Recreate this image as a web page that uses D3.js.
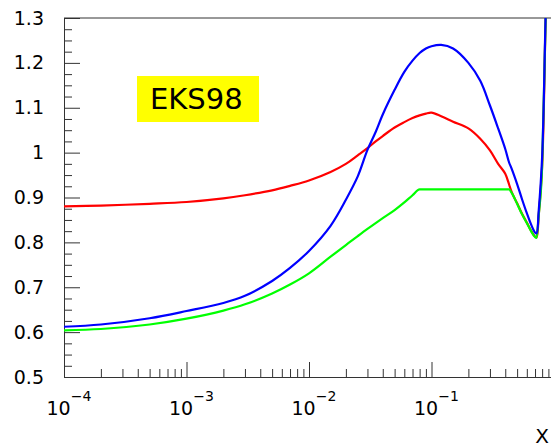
<!DOCTYPE html>
<html>
<head>
<meta charset="utf-8">
<script src="https://cdn.jsdelivr.net/npm/d3@7"></script>
<style>
  body { margin: 0; background: #fff; }
  text { font-family: "DejaVu Sans", sans-serif; fill: #000; }
</style>
</head>
<body>
<div id="chart"></div>
<script>
// values (x grid shared by the three curves)
const xVals = [1e-4, 2e-4, 5e-4, 1e-3, 2e-3, 3e-3, 5e-3, 7e-3, 0.01, 0.015, 0.02, 0.025, 0.03, 0.035, 0.04,
    0.05, 0.06, 0.07, 0.08, 0.09, 0.1, 0.12, 0.15, 0.2, 0.25, 0.3, 0.35, 0.4, 0.43, 0.45, 0.5, 0.55,
    0.6, 0.65, 0.7, 0.72, 0.75, 0.8, 0.85, 0.88];
const redVals = [0.880, 0.882, 0.886, 0.890, 0.898, 0.905, 0.916, 0.926, 0.938, 0.957, 0.975, 0.994, 1.010, 1.025, 1.037,
    1.056, 1.068, 1.077, 1.083, 1.087, 1.089, 1.081, 1.069, 1.054, 1.031, 1.005, 0.975, 0.953, 0.929, 0.913, 0.887, 0.863,
    0.844, 0.826, 0.813, 0.811, 0.86, 0.97, 1.27, 1.45];
const greenVals = [0.604, 0.607, 0.617, 0.630, 0.648, 0.662, 0.686, 0.706, 0.731, 0.768, 0.794, 0.814, 0.830, 0.843, 0.854,
    0.872, 0.889, 0.905, 0.918, 0.918, 0.918, 0.918, 0.918, 0.918, 0.918, 0.918, 0.918, 0.918, 0.918, 0.911, 0.886, 0.862,
    0.843, 0.825, 0.812, 0.810, 0.86, 0.97, 1.27, 1.45];
const blueVals = [0.612, 0.617, 0.631, 0.647, 0.665, 0.681, 0.714, 0.743, 0.781, 0.837, 0.895, 0.947, 1.006, 1.046, 1.085,
    1.140, 1.180, 1.205, 1.222, 1.232, 1.237, 1.240, 1.232, 1.200, 1.160, 1.105, 1.054, 1.008, 0.978, 0.965, 0.930, 0.895,
    0.865, 0.840, 0.822, 0.820, 0.87, 0.99, 1.28, 1.45];

const decades = [1e-4, 1e-3, 1e-2, 1e-1];
const decadeExp = ["\u22124", "\u22123", "\u22122", "\u22121"];
const yMajor = [0.5, 0.6, 0.7, 0.8, 0.9, 1, 1.1, 1.2, 1.3];
const yLabels = ["0.5", "0.6", "0.7", "0.8", "0.9", "1", "1.1", "1.2", "1.3"];
const label = "EKS98";

const W = 551, H = 448;
const margin = { top: 18, left: 64 };
const plotW = 490, plotH = 359;

const svg = d3.select("#chart").append("svg")
    .attr("width", W)
    .attr("height", H);

const g = svg.append("g")
    .attr("transform", `translate(${margin.left},${margin.top})`);

const x = d3.scaleLog().domain([1e-4, 1]).range([0, plotW]);
const y = d3.scaleLinear().domain([0.5, 1.3]).range([plotH, 0]);

g.append("clipPath").attr("id", "clip")
    .append("rect").attr("width", plotW).attr("height", plotH);

// minor ticks
const xMinor = [];
decades.forEach(d => { for (let k = 2; k <= 9; k++) xMinor.push(d * k); });
const yMinor = d3.range(0.5, 1.3001, 0.025).filter(v => Math.abs(v * 10 - Math.round(v * 10)) > 1e-6);

g.append("g")
    .attr("transform", `translate(0,${plotH})`)
    .call(d3.axisBottom(x).tickValues(xMinor).tickSize(-8).tickFormat(""))
    .call(a => a.select(".domain").remove());

g.append("g")
    .call(d3.axisLeft(y).tickValues(yMinor).tickSize(-8).tickFormat(""))
    .call(a => a.select(".domain").remove());

// major ticks
const xAxis = g.append("g")
    .attr("transform", `translate(0,${plotH})`)
    .call(d3.axisBottom(x).tickValues(decades).tickSize(-15).tickSizeOuter(0).tickFormat(""));

xAxis.selectAll(".tick").append("text")
    .attr("x", -18)
    .attr("y", 38)
    .attr("text-anchor", "start")
    .style("font-size", "19px")
    .each(function (d, i) {
        const t = d3.select(this);
        t.append("tspan").text("10");
        t.append("tspan").attr("dy", -14).style("font-size", "14px").text(decadeExp[i]);
    });

g.append("g")
    .call(d3.axisLeft(y).tickValues(yMajor).tickSize(-16).tickSizeOuter(0).tickPadding(20)
        .tickFormat((d, i) => yLabels[i]))
    .call(a => a.selectAll("text").style("font-size", "19px").attr("fill", "#000"));

g.selectAll(".tick line").attr("stroke", "#333");
g.selectAll(".domain").attr("stroke", "#333");

// top frame line
g.append("line")
    .attr("x1", 0).attr("x2", plotW)
    .attr("y1", 0).attr("y2", 0)
    .attr("stroke", "#333");

// curves: smooth for red/blue, green keeps its kinks
const smooth = d3.line()
    .x(d => x(d[0]))
    .y(d => y(d[1]))
    .curve(d3.curveCatmullRom.alpha(0.5));
const mono = d3.line()
    .x(d => x(d[0]))
    .y(d => y(d[1]))
    .curve(d3.curveMonotoneX);

const series = [
    { vals: redVals, color: "#ff0000", gen: smooth },
    { vals: greenVals, color: "#00ff00", gen: mono },
    { vals: blueVals, color: "#0000ff", gen: smooth }
];

g.append("g").attr("clip-path", "url(#clip)")
    .selectAll("path")
    .data(series)
    .join("path")
    .attr("fill", "none")
    .attr("stroke", d => d.color)
    .attr("stroke-width", 2.2)
    .attr("d", d => d.gen(xVals.map((xv, i) => [xv, d.vals[i]])));

// EKS98 label box
g.append("rect")
    .attr("x", 73).attr("y", 58)
    .attr("width", 122).attr("height", 46)
    .attr("fill", "#ffff00");
g.append("text")
    .attr("x", 86).attr("y", 90.5)
    .style("font-size", "29px")
    .text(label);

// axis title
svg.append("text")
    .attr("x", 549).attr("y", 443)
    .attr("text-anchor", "end")
    .style("font-size", "20px")
    .text("X");
</script>
</body>
</html>
